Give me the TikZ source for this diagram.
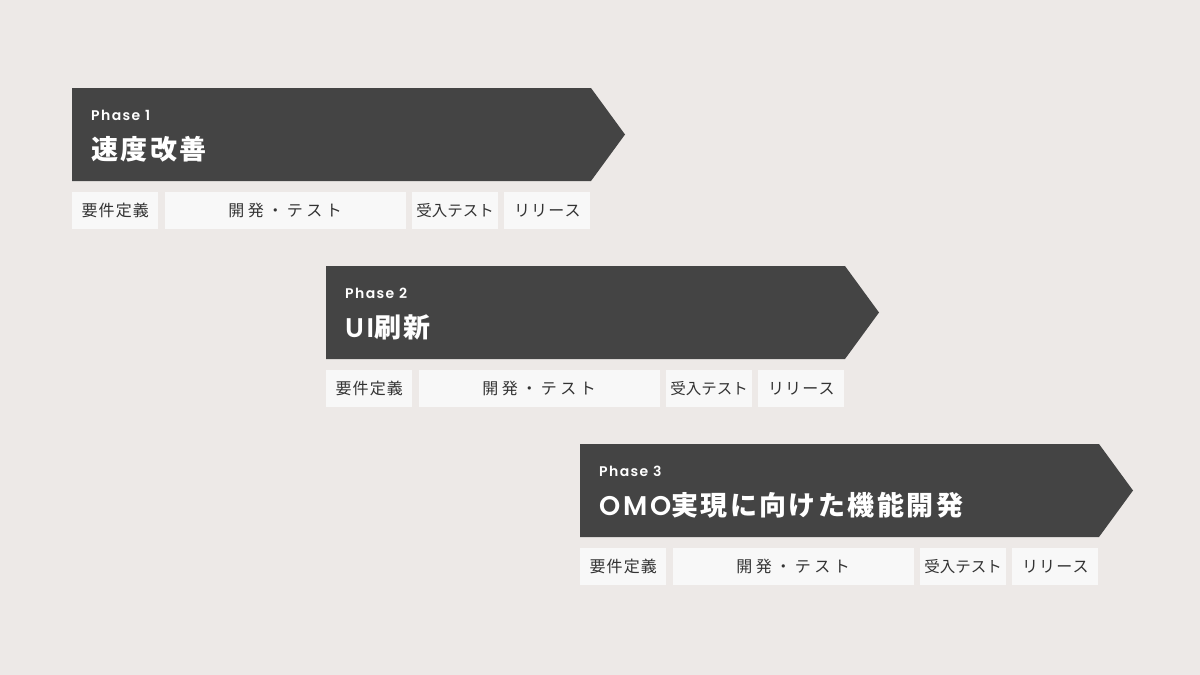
\documentclass[tikz,border=0pt]{standalone}
\usepackage{fontspec}
\setmainfont{Poppins}[LetterSpace=10,BoldFont={* SemiBold}]
\newfontfamily\jp[LetterSpace=9]{Noto Sans CJK JP}
\newfontfamily\jpstep[LetterSpace=7]{Noto Sans CJK JP}
\newfontfamily\jpwide[LetterSpace=22]{Noto Sans CJK JP}
\newfontfamily\jptight{Noto Sans CJK JP}
\usetikzlibrary{positioning}

\definecolor{bgcol}{HTML}{EDE9E7}
\definecolor{bannercol}{HTML}{444444}
\definecolor{boxcol}{HTML}{F8F8F8}
\definecolor{inkcol}{HTML}{333333}

\begin{document}
\begin{tikzpicture}[x=1pt,y=-1pt,node distance=6pt,
  banner/.style={fill=bannercol},
  tag/.style={anchor=base west,text=white,inner sep=0pt,
    font=\fontsize{14}{14}\selectfont\bfseries},
  headline/.style={anchor=west,text=white,inner sep=0pt,
    font=\fontsize{27}{27}\selectfont\bfseries},
  stepbox/.style={fill=boxcol,text=inkcol,minimum height=37pt,
    inner sep=0pt,font=\jpstep\fontsize{16}{16}\selectfont}]

  \fill[bgcol] (0,0) rectangle (1200,675);
  \useasboundingbox (0,0) rectangle (1200,675);

  \foreach \i/\x/\y/\ttl in {1/72/88/{\jp 速度改善},
      2/326/266/{UI\jp 刷新},
      3/580/444/{OMO\jp 実現に向けた機能開発}} {
    % arrow-shaped banner
    \fill[banner] (\x,\y) -- ++(519,0) -- ++(34,46.5)
      -- ++(-34,46.5) -- ++(-519,0) -- cycle;
    \node[tag] (h\i) at (\x+19,\y+32) {Phase \i};
    \node[headline] (t\i) at (\x+19,\y+61) {\ttl};

    % steps under the banner
    \node[stepbox,minimum width=86pt,anchor=north west]
      (a\i) at (\x,\y+104) {要件定義};
    \node[stepbox,minimum width=241pt,right=of a\i] (b\i) {\jpwide 開発・テスト};
    \node[stepbox,minimum width=86pt,right=of b\i] (c\i)
      {\jptight\fontsize{15.5}{16}\selectfont 受入テスト};
    \node[stepbox,minimum width=86pt,right=of c\i] (d\i) {リリース};
  }

\end{tikzpicture}
\end{document}
